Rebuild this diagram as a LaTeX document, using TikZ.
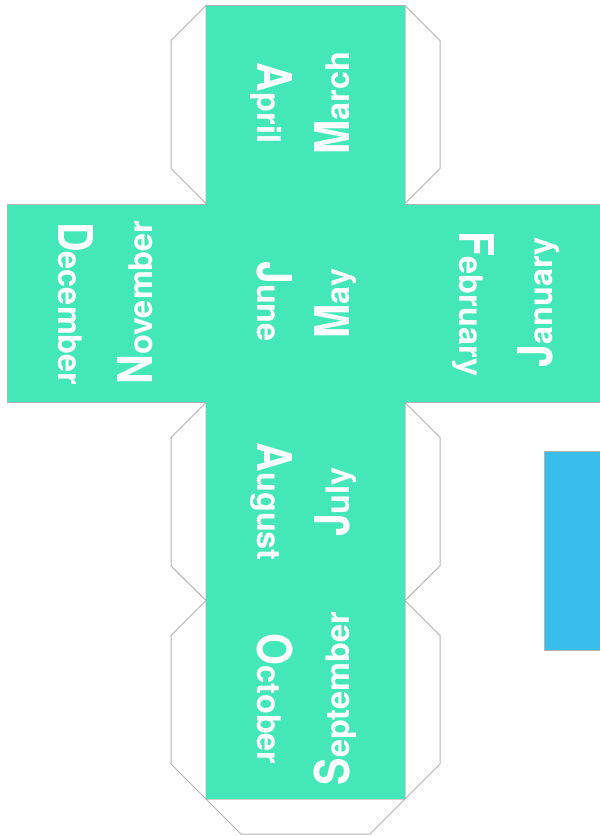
\documentclass[tikz,border=0pt]{standalone}
\usepackage{fontspec}
\setmainfont{TeX Gyre Heros}
\definecolor{mint}{HTML}{44E7B7}
\definecolor{sky}{HTML}{39BEEB}
\definecolor{edge}{HTML}{B4B4B4}
\newcommand{\monthtext}[2]{\bfseries\scalebox{1}[1.17]{\fontsize{41}{41}\selectfont #1}{\fontsize{32.5}{33}\selectfont #2}}
\tikzset{
  panel/.style={fill=mint,draw=none},
  foldline/.style={draw=edge,line width=1pt,fill=white,line join=miter},
  up/.style={text=white,inner sep=0pt,anchor=base west,rotate=90},
  down/.style={text=white,inner sep=0pt,anchor=base west,rotate=-90}
}
\begin{document}
\begin{tikzpicture}[x=1pt,y=-1pt]
\useasboundingbox (0,0) rectangle (600,836);
\path[fill=white] (0,0) rectangle (600,836);
% outlines and tabs
\draw[foldline] (206,5.5) -- (171,40.5) -- (171,168.5) -- (206,203.5) -- cycle;
\draw[foldline] (405,5.5) -- (440,40.5) -- (440,168.5) -- (405,203.5) -- cycle;
\draw[foldline] (206,402.5) -- (171,437.5) -- (171,566) -- (206,600.5) -- cycle;
\draw[foldline] (405,402.5) -- (440,437.5) -- (440,566) -- (405,600.5) -- cycle;
\draw[foldline] (206,600.5) -- (171,635.5) -- (171,764) -- (206,799) -- cycle;
\draw[foldline] (405,600.5) -- (440,635.5) -- (440,764) -- (405,799) -- cycle;
\draw[foldline] (206,799) -- (241,834) -- (370,834) -- (405,799) -- cycle;
\draw[foldline] (206,5.5) -- (405,5.5);
\draw[foldline] (7.5,204) rectangle (600,402.5);
\draw[foldline] (544.5,451) rectangle (600,650);
% panels
\node[panel,inner sep=0pt,anchor=north west] (vert) at (206,6) {\tikz\path (0,0) rectangle (199pt,793pt);};
\node[panel,inner sep=0pt,anchor=north west] (horiz) at (8,204.5) {\tikz\path (0,0) rectangle (592pt,197.5pt);};
\node[fill=sky,draw=none,inner sep=0pt,anchor=north west] (flap) at (545,451.5) {\tikz\path (0,0) rectangle (55pt,198pt);};
% month labels
\node[down] (april) at (257,62.7) {\monthtext{A}{pril}};
\node[up] (march) at (349.8,155) {\monthtext{M}{arch}};
\node[down] (june) at (257,261) {\monthtext{J}{une}};
\node[up] (may) at (349.8,338.5) {\monthtext{M}{ay}};
\node[down] (december) at (58.5,222) {\monthtext{D}{ecember}};
\node[up] (november) at (152,384.5) {\monthtext{N}{ovember}};
\node[down] (february) at (459.3,231.5) {\monthtext{F}{ebruary}};
\node[up] (january) at (552,367.5) {\monthtext{J}{anuary}};
\node[down] (august) at (257,442.5) {\monthtext{A}{ugust}};
\node[up] (july) at (349.8,537) {\monthtext{J}{uly}};
\node[down] (october) at (257,633.5) {\monthtext{O}{ctober}};
\node[up] (september) at (349.8,785.5) {\monthtext{S}{eptember}};
\end{tikzpicture}
\end{document}
